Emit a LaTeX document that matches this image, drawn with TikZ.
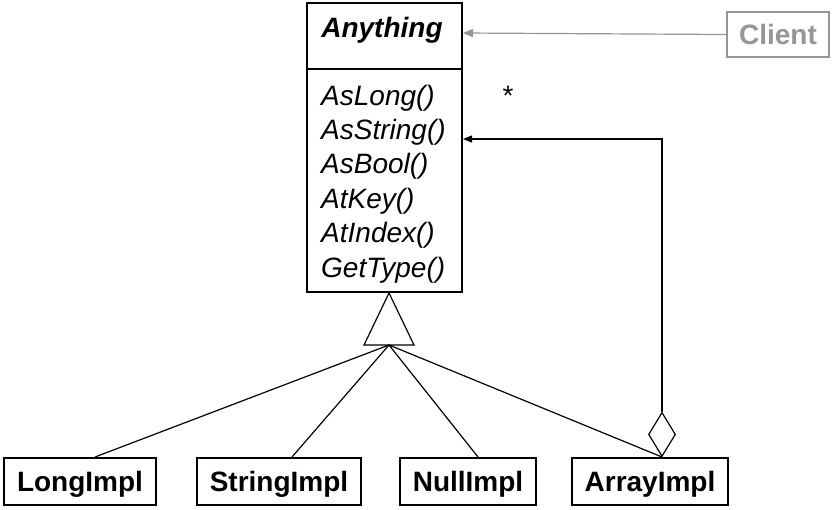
\documentclass[tikz,border=0pt]{standalone}
\usepackage{fontspec}
\setmainfont{Liberation Sans}
\usetikzlibrary{arrows.meta,shapes.geometric,positioning}
\definecolor{clientgray}{RGB}{150,150,150}
\tikzset{
  classbox/.style={draw, line width=2pt, inner sep=0pt, anchor=center},
  implbox/.style={draw, line width=2pt, inner sep=0pt, minimum height=47pt,
     text height=20pt, text depth=0pt,
     font=\fontsize{28}{33}\selectfont\bfseries},
  method/.style={anchor=base west, inner sep=0pt, font=\fontsize{28}{33}\selectfont\itshape},
  conn/.style={line width=1.2pt},
  tip/.style={-{Triangle[length=9pt,width=7pt]}}
}
\begin{document}
\begin{tikzpicture}[x=1pt,y=-1pt]
\useasboundingbox (0,0) rectangle (832,509);
% class Anything
\node[classbox, minimum width=155pt, minimum height=289pt, anchor=north west] (cls) at (306,2) {};
\draw[line width=2pt] ([yshift=-67pt]cls.north west) coordinate (divL) -- ([yshift=-67pt]cls.north east) coordinate (divR);
\node[anchor=base, inner sep=0pt, font=\fontsize{28}{33}\selectfont\bfseries\itshape] (name) at (382,37) {Anything};
\node[method] (m1) at (321,105) {AsLong()};
\node[method] (m2) at (321,139.4) {AsString()};
\node[method] (m3) at (321,173.8) {AsBool()};
\node[method] (m4) at (321,208.2) {AtKey()};
\node[method] (m5) at (321,242.6) {AtIndex()};
\node[method] (m6) at (321,277) {GetType()};
% client
\node[draw=clientgray, line width=2pt, text=clientgray, minimum width=102pt, minimum height=45pt, inner sep=0pt,
      text height=20pt, text depth=0pt,
      font=\fontsize{28}{33}\selectfont\bfseries] (client) at (778,34.5) {Client};
\coordinate (clientEnd) at ([yshift=-31pt]cls.north east);
\draw[conn, draw=clientgray, -{Triangle[length=10pt,width=8pt]}, clientgray] (client.west) -- (clientEnd);
% multiplicity
\node[inner sep=0pt, font=\fontsize{28}{33}\selectfont] (mult) at (508,96) {*};
% impl boxes
\node[implbox, minimum width=152pt] (li) at (80,481.5) {LongImpl};
\node[implbox, minimum width=164pt] (si) at (279,481.5) {StringImpl};
\node[implbox, minimum width=136pt] (ni) at (468,481.5) {NullImpl};
\node[implbox, minimum width=156pt] (ai) at (650,481.5) {ArrayImpl};
% inheritance triangle
\coordinate (apex) at ([xshift=4.5pt]cls.south);
\coordinate (tb) at ([yshift=-52pt]apex);
\draw[conn] (apex) -- ([xshift=-25pt]tb) -- ([xshift=25pt]tb) -- cycle;
\draw[conn] (tb) -- ([xshift=15pt]li.north);
\draw[conn] (tb) -- ([xshift=13pt]si.north);
\draw[conn] (tb) -- ([xshift=10pt]ni.north);
% aggregation
\node[draw, conn, shape=diamond, inner sep=0pt, minimum width=27pt, minimum height=44pt, anchor=south] (dia) at ([xshift=12pt]ai.north) {};
\draw[conn] (tb) -- (dia.south);
\coordinate (aggEnd) at ([yshift=-137pt]cls.north east);
\draw[conn, tip] (dia.north) |- (aggEnd);
\end{tikzpicture}
\end{document}
